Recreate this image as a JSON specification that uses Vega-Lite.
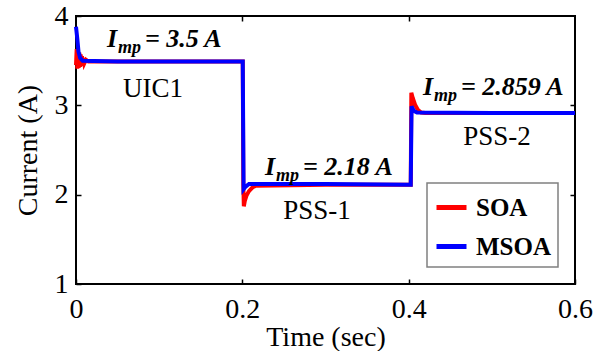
{
  "$schema": "https://vega.github.io/schema/vega-lite/v6.json",
  "width": 499,
  "height": 268,
  "autosize": {"type": "none"},
  "padding": {"left": 76, "top": 16, "right": 28, "bottom": 67},
  "background": "white",
  "config": {
    "view": {"stroke": "black", "strokeWidth": 2},
    "font": "Liberation Serif",
    "axis": {
      "domain": false,
      "grid": false,
      "labelFlush": false,
      "labelOverlap": false,
      "tickColor": "black",
      "tickSize": -5,
      "tickWidth": 1.5,
      "labelFont": "Liberation Serif",
      "labelFontSize": 28,
      "labelColor": "black",
      "titleFont": "Liberation Serif",
      "titleFontSize": 28,
      "titleFontWeight": "normal",
      "titleColor": "black"
    },
    "legend": {
      "orient": "none",
      "legendX": 351,
      "legendY": 167,
      "strokeColor": "#808080",
      "strokeWidth": 1.5,
      "fillColor": "white",
      "padding": 7,
      "symbolType": "stroke",
      "symbolStrokeWidth": 5,
      "symbolSize": 900,
      "labelFont": "Liberation Serif",
      "labelFontSize": 25,
      "labelFontWeight": "bold",
      "labelColor": "black",
      "rowPadding": 8,
      "labelOffset": 7
    }
  },
  "datasets": {
    "series": [
      {"t": 0.0, "y": 3.45, "s": "SOA"},
      {"t": 0.0008, "y": 3.63, "s": "SOA"},
      {"t": 0.0016, "y": 3.41, "s": "SOA"},
      {"t": 0.0024, "y": 3.61, "s": "SOA"},
      {"t": 0.0032, "y": 3.42, "s": "SOA"},
      {"t": 0.004, "y": 3.59, "s": "SOA"},
      {"t": 0.0048, "y": 3.43, "s": "SOA"},
      {"t": 0.0056, "y": 3.57, "s": "SOA"},
      {"t": 0.0064, "y": 3.44, "s": "SOA"},
      {"t": 0.0072, "y": 3.55, "s": "SOA"},
      {"t": 0.008, "y": 3.45, "s": "SOA"},
      {"t": 0.009, "y": 3.53, "s": "SOA"},
      {"t": 0.01, "y": 3.47, "s": "SOA"},
      {"t": 0.012, "y": 3.51, "s": "SOA"},
      {"t": 0.015, "y": 3.49, "s": "SOA"},
      {"t": 0.1, "y": 3.49, "s": "SOA"},
      {"t": 0.2005, "y": 3.49, "s": "SOA"},
      {"t": 0.2012, "y": 2.1, "s": "SOA"},
      {"t": 0.2018, "y": 1.87, "s": "SOA"},
      {"t": 0.203, "y": 1.93, "s": "SOA"},
      {"t": 0.205, "y": 1.99, "s": "SOA"},
      {"t": 0.208, "y": 2.04, "s": "SOA"},
      {"t": 0.212, "y": 2.08, "s": "SOA"},
      {"t": 0.216, "y": 2.1, "s": "SOA"},
      {"t": 0.3, "y": 2.11, "s": "SOA"},
      {"t": 0.4025, "y": 2.11, "s": "SOA"},
      {"t": 0.4032, "y": 3.14, "s": "SOA"},
      {"t": 0.405, "y": 3.08, "s": "SOA"},
      {"t": 0.408, "y": 3.0, "s": "SOA"},
      {"t": 0.411, "y": 2.95, "s": "SOA"},
      {"t": 0.415, "y": 2.92, "s": "SOA"},
      {"t": 0.42, "y": 2.915, "s": "SOA"},
      {"t": 0.6, "y": 2.915, "s": "SOA"},
      {"t": 0.0, "y": 3.88, "s": "MSOA"},
      {"t": 0.0015, "y": 3.75, "s": "MSOA"},
      {"t": 0.003, "y": 3.6, "s": "MSOA"},
      {"t": 0.005, "y": 3.53, "s": "MSOA"},
      {"t": 0.008, "y": 3.5, "s": "MSOA"},
      {"t": 0.05, "y": 3.49, "s": "MSOA"},
      {"t": 0.15, "y": 3.49, "s": "MSOA"},
      {"t": 0.2005, "y": 3.49, "s": "MSOA"},
      {"t": 0.2015, "y": 2.06, "s": "MSOA"},
      {"t": 0.204, "y": 2.09, "s": "MSOA"},
      {"t": 0.208, "y": 2.12, "s": "MSOA"},
      {"t": 0.3, "y": 2.12, "s": "MSOA"},
      {"t": 0.4025, "y": 2.11, "s": "MSOA"},
      {"t": 0.4035, "y": 2.99, "s": "MSOA"},
      {"t": 0.406, "y": 2.94, "s": "MSOA"},
      {"t": 0.41, "y": 2.92, "s": "MSOA"},
      {"t": 0.5, "y": 2.915, "s": "MSOA"},
      {"t": 0.6, "y": 2.915, "s": "MSOA"}
    ],
    "notes": [
      {"t": 0.0373, "y": 3.653, "v": "= 3.5 A"},
      {"t": 0.2273, "y": 2.22, "v": "= 2.18 A"},
      {"t": 0.4172, "y": 3.116, "v": "= 2.859 A"}
    ],
    "labels": [
      {"t": 0.0926, "y": 3.093, "v": "UIC1"},
      {"t": 0.2898, "y": 1.728, "v": "PSS-1"},
      {"t": 0.5062, "y": 2.556, "v": "PSS-2"}
    ]
  },
  "resolve": {"axis": {"x": "independent", "y": "independent"}},
  "layer": [
    {
      "data": {"name": "series"},
      "mark": {"type": "line", "strokeWidth": 4},
      "encoding": {
        "x": {
          "field": "t", "type": "quantitative",
          "scale": {"domain": [0, 0.6], "nice": false},
          "axis": {"values": [0, 0.2, 0.4, 0.6], "format": "~g", "title": "Time (sec)", "labelPadding": 16, "titlePadding": 0}
        },
        "y": {
          "field": "y", "type": "quantitative",
          "scale": {"domain": [1, 4], "nice": false},
          "axis": {"values": [1, 2, 3, 4], "format": "d", "title": "Current (A)", "labelPadding": 13, "titlePadding": 12}
        },
        "color": {
          "field": "s", "type": "nominal",
          "scale": {"domain": ["SOA", "MSOA"], "range": ["#ff0000", "#0000ff"]},
          "legend": {"title": null}
        }
      }
    },
    {
      "data": {"name": "labels"},
      "mark": {"type": "text", "align": "center", "baseline": "alphabetic", "fontSize": 27, "font": "Liberation Serif", "color": "black"},
      "encoding": {
        "x": {"field": "t", "type": "quantitative", "axis": {"orient": "top", "values": [0.2, 0.4], "labels": false, "title": null}},
        "y": {"field": "y", "type": "quantitative", "axis": {"orient": "right", "values": [2, 3], "labels": false, "title": null}},
        "text": {"field": "v"}
      }
    },
    {
      "data": {"name": "notes"},
      "mark": {"type": "text", "align": "left", "baseline": "alphabetic", "fontSize": 26, "fontWeight": "bold", "fontStyle": "italic", "font": "Liberation Serif", "color": "black", "text": "I"},
      "encoding": {
        "x": {"field": "t", "type": "quantitative", "axis": null},
        "y": {"field": "y", "type": "quantitative", "axis": null}
      }
    },
    {
      "data": {"name": "notes"},
      "mark": {"type": "text", "align": "left", "baseline": "alphabetic", "fontSize": 18, "fontWeight": "bold", "fontStyle": "italic", "font": "Liberation Serif", "color": "black", "text": "mp", "dx": 11, "dy": 6},
      "encoding": {
        "x": {"field": "t", "type": "quantitative", "axis": null},
        "y": {"field": "y", "type": "quantitative", "axis": null}
      }
    },
    {
      "data": {"name": "notes"},
      "mark": {"type": "text", "align": "left", "baseline": "alphabetic", "fontSize": 26, "fontWeight": "bold", "fontStyle": "italic", "font": "Liberation Serif", "color": "black", "dx": 38},
      "encoding": {
        "x": {"field": "t", "type": "quantitative", "axis": null},
        "y": {"field": "y", "type": "quantitative", "axis": null},
        "text": {"field": "v"}
      }
    }
  ]
}
